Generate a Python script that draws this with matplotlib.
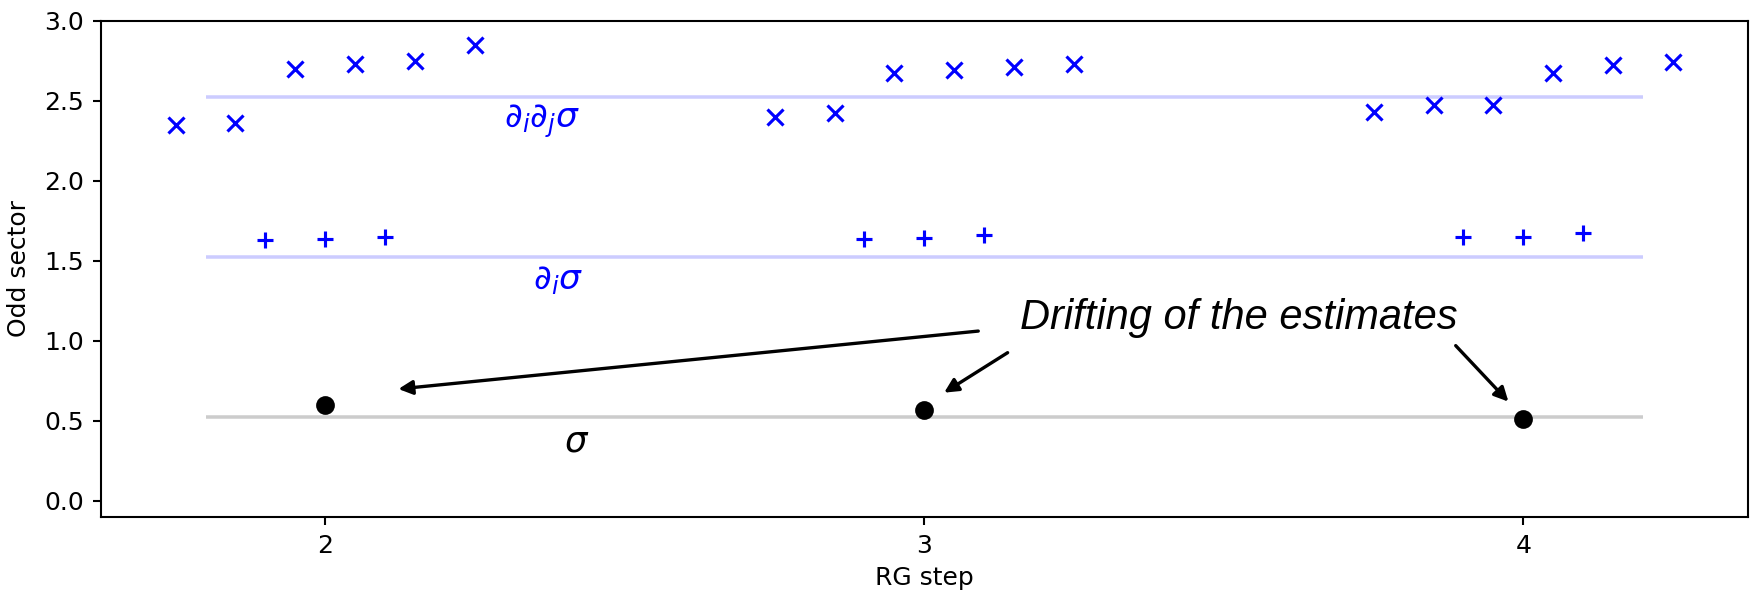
import matplotlib
matplotlib.use("Agg")
import matplotlib.pyplot as plt
import numpy as np

steps = [2, 3, 4]
# second-derivative operator estimates (x markers), 6 per step
dd_offsets = [-0.25, -0.15, -0.05, 0.05, 0.15, 0.25]
dd_vals = [
    [2.35, 2.36, 2.70, 2.73, 2.75, 2.85],
    [2.40, 2.42, 2.67, 2.69, 2.71, 2.73],
    [2.43, 2.47, 2.47, 2.67, 2.72, 2.74],
]
# first-derivative operator estimates (+ markers), 3 per step
d_offsets = [-0.1, 0.0, 0.1]
d_vals = [
    [1.63, 1.635, 1.645],
    [1.635, 1.64, 1.66],
    [1.65, 1.65, 1.67],
]
# sigma estimates (dots)
s_vals = [0.60, 0.567, 0.51]
# exact values
exact = {"dd": 2.52, "d": 1.52, "s": 0.52}
line_range = (1.8, 4.2)

fig = plt.figure(figsize=(1754 / 150, 591 / 150), dpi=150)
ax = fig.add_axes([0.0574, 0.1247, 0.9392, 0.8403])

ax.hlines(exact["dd"], *line_range, color="blue", alpha=0.2, lw=1.7)
ax.hlines(exact["d"], *line_range, color="blue", alpha=0.2, lw=1.7)
ax.hlines(exact["s"], *line_range, color="black", alpha=0.2, lw=1.7)

for st, vals in zip(steps, dd_vals):
    ax.plot([st + o for o in dd_offsets], vals, "x", color="blue", ms=7.5, mew=1.5)
for st, vals in zip(steps, d_vals):
    ax.plot([st + o for o in d_offsets], vals, "+", color="blue", ms=7.5, mew=1.5)
ax.plot(steps, s_vals, "o", color="black", ms=8)

ax.text(2.361, 2.37, r"$\partial_i\partial_j\sigma$", color="blue", fontsize=16.5,
        ha="center", va="center")
ax.text(2.389, 1.375, r"$\partial_i\sigma$", color="blue", fontsize=16.5,
        ha="center", va="center")
ax.text(2.42, 0.37, r"$\sigma$", color="black", fontsize=17,
        ha="center", va="center")

ax.text(3.159, 1.073, "Drifting of the estimates", fontsize=20,
        family="Liberation Sans", style="italic", ha="left", va="baseline")

arrows = [
    ((3.09, 1.06), (2.122, 0.698)),
    ((3.139, 0.925), (3.033, 0.675)),
    ((3.887, 0.969), (3.975, 0.619)),
]
for start, end in arrows:
    ax.annotate("", xy=end, xytext=start,
                arrowprops=dict(arrowstyle="-|>", color="black", lw=1.6,
                                mutation_scale=14, shrinkA=0, shrinkB=0))

ax.set_xlim(1.625, 4.375)
ax.set_ylim(-0.104, 3.0)
ax.set_xticks(steps)
ax.set_yticks(np.arange(0, 3.01, 0.5))
ax.tick_params(labelsize=12, length=4, width=1, pad=4)
for sp in ax.spines.values():
    sp.set_linewidth(1.0)
ax.set_xlabel("RG step", fontsize=12)
ax.set_ylabel("Odd sector", fontsize=12)
ax.yaxis.set_label_coords(-0.0424, 0.5)
ax.xaxis.set_label_coords(0.5, -0.098)

fig.savefig("out.png", dpi=150)
